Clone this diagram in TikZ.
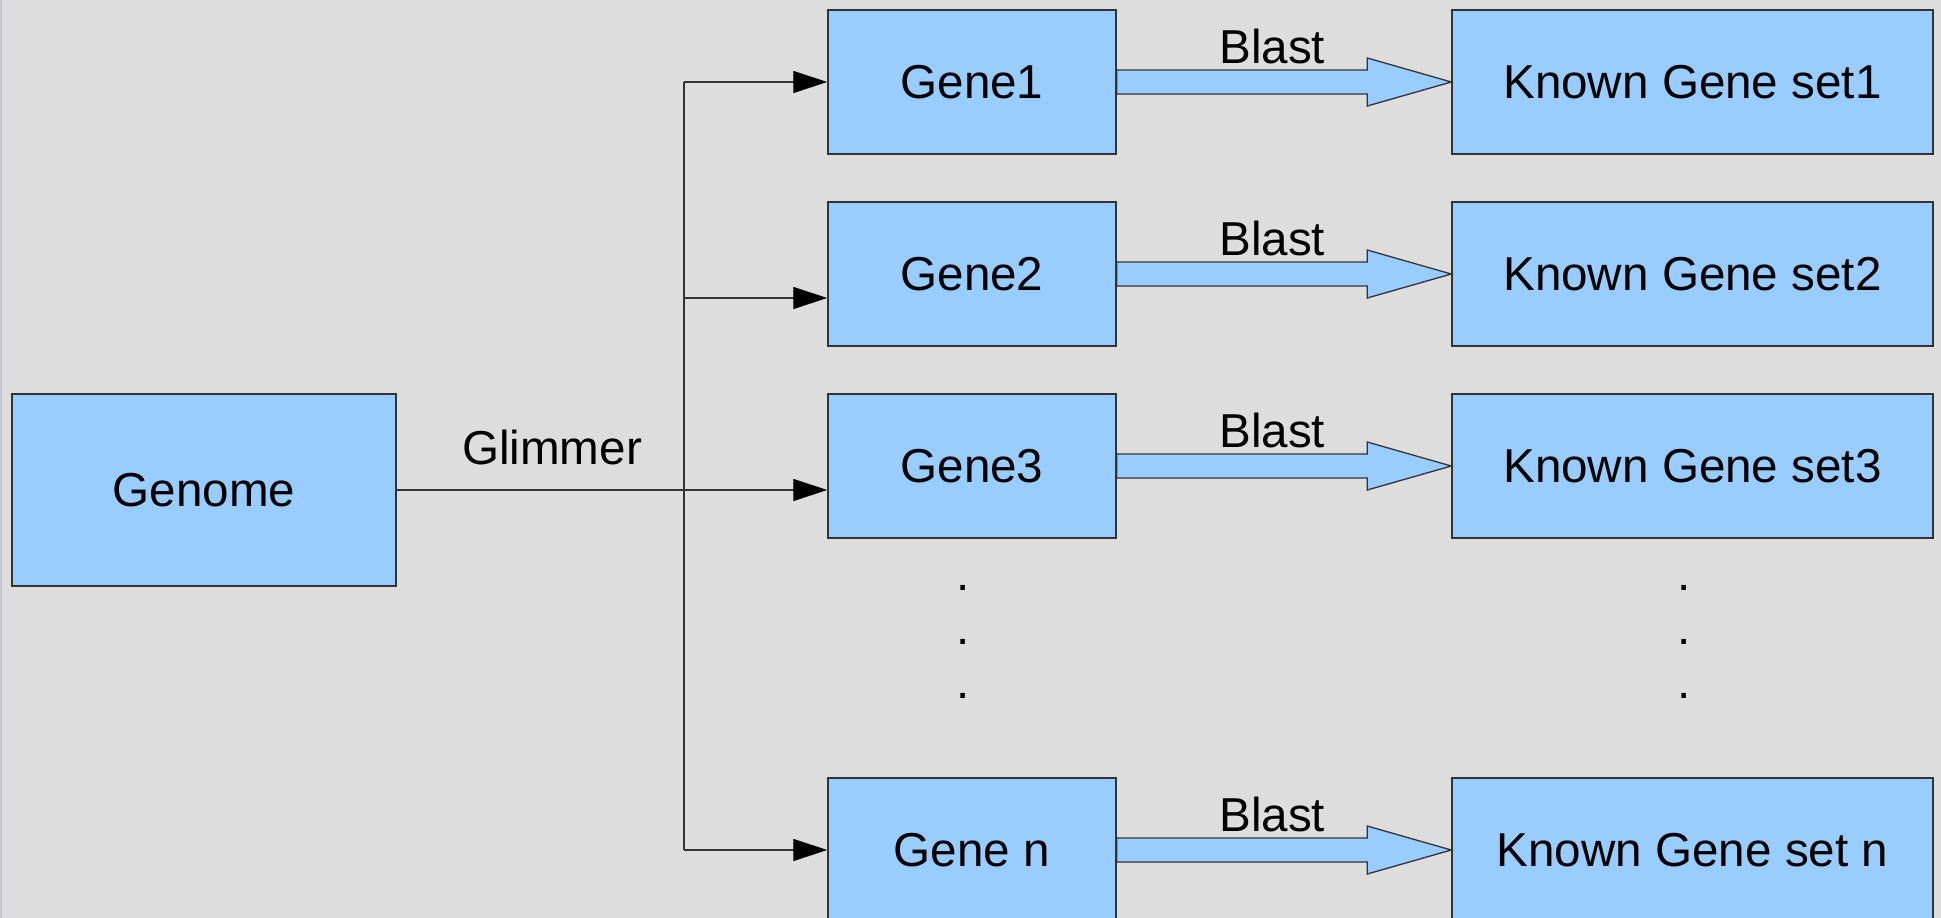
\documentclass[tikz,border=0pt]{standalone}
\usepackage{fontspec}
\setmainfont{Liberation Sans}
\usetikzlibrary{arrows.meta,calc}
\definecolor{bg}{HTML}{DDDDDD}
\definecolor{boxfill}{HTML}{99CCFF}
\definecolor{edge}{HTML}{333333}
\definecolor{strip}{HTML}{C6C6D6}
\begin{document}
\begin{tikzpicture}[x=1pt,y=-1pt,
  txt/.style={font=\fontsize{47.6pt}{57pt}\selectfont},
  box/.style={txt,draw=edge,line width=1.5pt,fill=boxfill,inner sep=0pt,minimum height=144pt},
  genebox/.style={box,minimum width=288pt},
  knownbox/.style={box,minimum width=481pt},
  lbl/.style={txt,inner sep=0pt,anchor=base},
  conn/.style={draw=edge,line width=1.3pt},
  arr/.style={conn,-{Triangle[length=34pt,width=22pt,color=black,fill=black]}},
  blastarrow/.style={draw=edge,line width=1.3pt,fill=boxfill,line join=miter}]
\clip (0,0) rectangle (1941,918);
\fill[bg] (0,0) rectangle (1941,918);
\fill[strip] (0,0) rectangle (2,918);

% nodes
\node[box,minimum width=384pt,minimum height=192pt] (genome) at (204,490) {Genome};
\node[genebox] (g1) at (972,82) {Gene1};
\node[genebox] (g2) at (972,274) {Gene2};
\node[genebox] (g3) at (972,466) {Gene3};
\node[genebox] (gn) at (972,850) {Gene n};
\node[knownbox] (k1) at (1692.5,82) {Known Gene set1};
\node[knownbox] (k2) at (1692.5,274) {Known Gene set2};
\node[knownbox] (k3) at (1692.5,466) {Known Gene set3};
\node[knownbox] (kn) at (1692.5,850) {Known Gene set n};

% Glimmer distribution
\node[lbl] (glim) at (552,464) {Glimmer};
\coordinate (top) at (684,82);
\coordinate (mid2) at (684,298);
\coordinate (bot) at (684,850);
\draw[conn] (top) -- (bot);
\draw[arr] (genome.east) -- (genome.east -| g3.west);
\draw[arr] (top) -- (top -| g1.west);
\draw[arr] (mid2) -- (mid2 -| g2.west);
\draw[arr] (bot) -- (bot -| gn.west);

% Blast arrows
\foreach \g/\k/\b in {g1/k1/b1,g2/k2/b2,g3/k3/b3,gn/kn/bn}{
  \draw[blastarrow] ($(\g.east)+(0,-12)$) -- ($(\k.west)+(-84,-12)$) -- ($(\k.west)+(-84,-24)$)
     -- (\k.west) -- ($(\k.west)+(-84,24)$) -- ($(\k.west)+(-84,12)$) -- ($(\g.east)+(0,12)$) -- cycle;
  \node[lbl] (\b) at ($(\k.west)+(-179,-19)$) {Blast};
}

% ellipsis dots
\node[lbl] (d1) at (963,590) {.};
\node[lbl] (d2) at (963,644) {.};
\node[lbl] (d3) at (963,698) {.};
\node[lbl] (e1) at (1684,590) {.};
\node[lbl] (e2) at (1684,644) {.};
\node[lbl] (e3) at (1684,698) {.};
\end{tikzpicture}
\end{document}
